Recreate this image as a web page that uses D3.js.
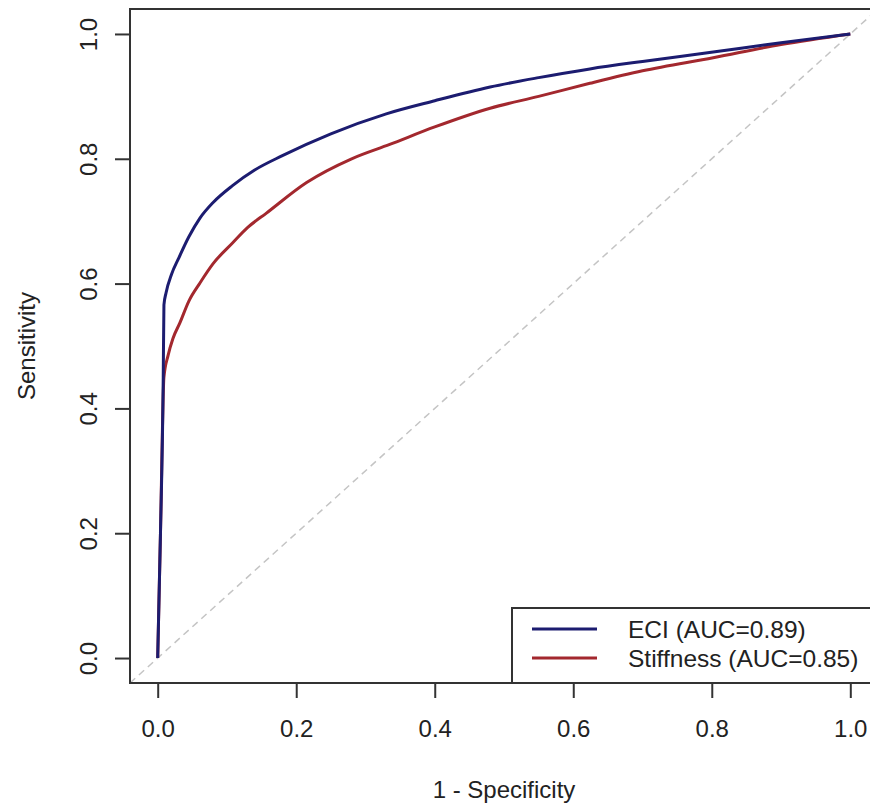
<!DOCTYPE html>
<html>
<head>
<meta charset="utf-8">
<script src="https://cdn.jsdelivr.net/npm/d3@7"></script>
<style>
  body { margin: 0; background: #fff; }
  text { font-family: "Liberation Sans", Arial, sans-serif; fill: #222; }
</style>
</head>
<body>
<svg id="chart"></svg>
<script>
const width = 870;
const height = 809;

// ROC points (1 - specificity, sensitivity)
const eciFpr = [0, 0.004, 0.008, 0.009, 0.012, 0.02, 0.03, 0.045, 0.061, 0.08, 0.108, 0.14, 0.18, 0.25, 0.33, 0.40, 0.48, 0.55, 0.624, 0.70, 0.802, 0.90, 1.0];
const eciTpr = [0, 0.20, 0.45, 0.566, 0.585, 0.615, 0.64, 0.675, 0.705, 0.73, 0.757, 0.782, 0.805, 0.84, 0.872, 0.893, 0.915, 0.93, 0.944, 0.956, 0.971, 0.986, 1.0];
const stiffFpr = [0, 0.004, 0.009, 0.015, 0.022, 0.032, 0.045, 0.061, 0.08, 0.108, 0.13, 0.157, 0.215, 0.28, 0.335, 0.40, 0.48, 0.55, 0.624, 0.70, 0.802, 0.90, 1.0];
const stiffTpr = [0, 0.20, 0.45, 0.485, 0.512, 0.537, 0.572, 0.601, 0.632, 0.665, 0.69, 0.713, 0.762, 0.80, 0.823, 0.851, 0.881, 0.90, 0.921, 0.941, 0.962, 0.983, 1.0];
const seriesNames = ["ECI (AUC=0.89)", "Stiffness (AUC=0.85)"];
const seriesColors = ["#1c1c70", "#a3282e"];
const tickValues = [0, 0.2, 0.4, 0.6, 0.8, 1.0];

var series = [
    { name: seriesNames[0], color: seriesColors[0], pts: eciFpr.map((x, i) => [x, eciTpr[i]]) },
    { name: seriesNames[1], color: seriesColors[1], pts: stiffFpr.map((x, i) => [x, stiffTpr[i]]) }
];

// plot region (R style: data range padded 4% on each side)
const x = d3.scaleLinear().domain([-0.04, 1.04]).range([130, 878]);
const y = d3.scaleLinear().domain([-0.04, 1.04]).range([683, 9]);

var svg = d3.select("#chart").attr("width", width).attr("height", height);

svg.append("clipPath").attr("id", "plotClip")
    .append("rect")
    .attr("x", x(-0.04)).attr("y", y(1.04))
    .attr("width", x(1.04) - x(-0.04)).attr("height", y(-0.04) - y(1.04));

var plot = svg.append("g").attr("clip-path", "url(#plotClip)");

// reference diagonal
plot.append("line")
    .attr("x1", x(-0.04)).attr("y1", y(-0.04))
    .attr("x2", x(1.04)).attr("y2", y(1.04))
    .attr("stroke", "#c4c4c4")
    .attr("stroke-width", 1.5)
    .attr("stroke-dasharray", "7,5");

var line = d3.line().x(d => x(d[0])).y(d => y(d[1])).curve(d3.curveMonotoneX);

// stiffness first so ECI sits on top
[series[1], series[0]].forEach(function(s) {
    plot.append("path")
        .datum(s.pts)
        .attr("d", line)
        .attr("fill", "none")
        .attr("stroke", s.color)
        .attr("stroke-width", 3)
        .attr("stroke-linejoin", "round");
});

// box
svg.append("rect")
    .attr("x", x(-0.04)).attr("y", y(1.04))
    .attr("width", x(1.04) - x(-0.04)).attr("height", y(-0.04) - y(1.04))
    .attr("fill", "none")
    .attr("stroke", "#333")
    .attr("stroke-width", 2);

// axes
var xAxis = svg.append("g")
    .attr("transform", "translate(0," + y(-0.04) + ")")
    .call(d3.axisBottom(x).tickValues(tickValues).tickFormat(d3.format(".1f")).tickSizeOuter(0).tickSizeInner(15).tickPadding(22));
xAxis.select(".domain").remove();

var yAxis = svg.append("g")
    .attr("transform", "translate(" + x(-0.04) + ",0)")
    .call(d3.axisLeft(y).tickValues(tickValues).tickFormat(d3.format(".1f")).tickSizeOuter(0).tickSizeInner(15).tickPadding(26));
yAxis.select(".domain").remove();

svg.selectAll(".tick line").attr("stroke", "#333").attr("stroke-width", 2);
svg.selectAll(".tick text")
    .style("font-family", "'Liberation Sans', Arial, sans-serif")
    .style("font-size", "24px")
    .attr("fill", "#222");

yAxis.selectAll(".tick text")
    .attr("x", null).attr("dy", null)
    .attr("text-anchor", "middle")
    .attr("transform", "translate(-41,0) rotate(-90)")
    .attr("dy", "0.35em");

// axis titles
svg.append("text")
    .attr("x", (x(-0.04) + x(1.04)) / 2)
    .attr("y", 798)
    .attr("text-anchor", "middle")
    .style("font-size", "24px")
    .text("1 - Specificity");

svg.append("text")
    .attr("transform", "translate(35," + (y(-0.04) + y(1.04)) / 2 + ") rotate(-90)")
    .attr("text-anchor", "middle")
    .style("font-size", "24px")
    .text("Sensitivity");

// legend
var legend = svg.append("g");
legend.append("rect")
    .attr("x", 512).attr("y", 608)
    .attr("width", 380).attr("height", y(-0.04) - 608)
    .attr("fill", "#fff")
    .attr("stroke", "#333")
    .attr("stroke-width", 2);

series.forEach(function(s, i) {
    var ly = 629 + i * 29;
    legend.append("line")
        .attr("x1", 532).attr("x2", 597)
        .attr("y1", ly).attr("y2", ly)
        .attr("stroke", s.color)
        .attr("stroke-width", 3);
    legend.append("text")
        .attr("x", 628).attr("y", ly)
        .attr("dy", "0.35em")
        .style("font-size", "24.5px")
        .text(s.name);
});
</script>
</body>
</html>
